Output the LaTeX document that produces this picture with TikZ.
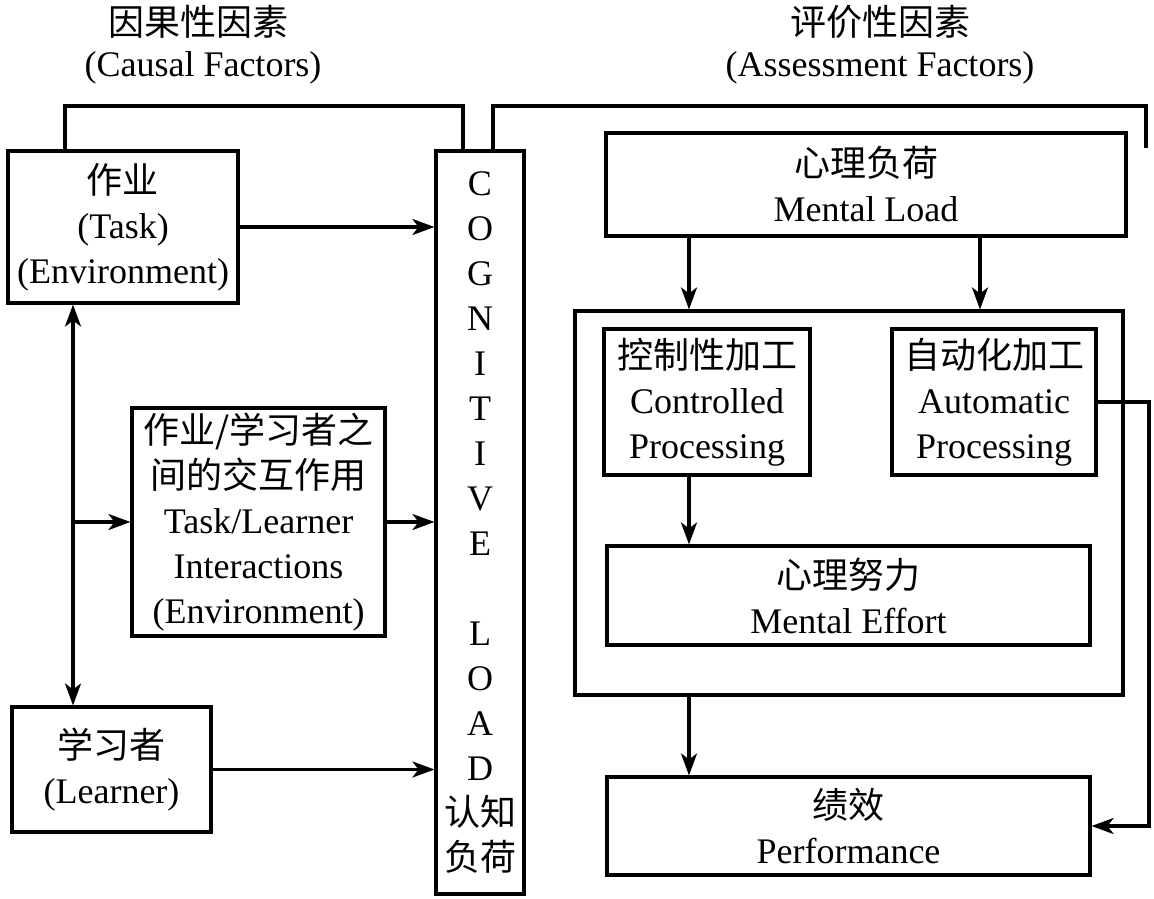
\documentclass[tikz,border=0pt]{standalone}
\usepackage{fontspec}
\setmainfont{Liberation Serif}
\newfontfamily\cjk{Noto Sans CJK SC}
\usetikzlibrary{arrows.meta}
\begin{document}
\begin{tikzpicture}[x=1pt,y=-1pt,
  line width=3.1pt,
  >={Stealth[length=22pt,width=16pt,inset=6pt]},
  box/.style={draw, align=center, inner sep=0pt, font={\fontsize{36}{45}\selectfont}},
  ttl/.style={align=center, inner sep=0pt, font={\fontsize{36}{45}\selectfont}}]
\useasboundingbox (0,0) rectangle (1154,898);

% titles
\node[ttl] (t1a) at (198,22) {\cjk 因果性因素};
\node[ttl] (t1b) at (203,68) {(Causal Factors)};
\node[ttl] (t2a) at (880,22) {\cjk 评价性因素};
\node[ttl] (t2b) at (880,68) {(Assessment Factors)};

% left side
\node[box, minimum width=230, minimum height=152] (task) at (123,227)
  {{\cjk 作业}\\(Task)\\(Environment)};
\node[box, minimum width=253, minimum height=228] (inter) at (258.5,522)
  {{\cjk 作业/学习者之}\\{\cjk 间的交互作用}\\Task/Learner\\Interactions\\(Environment)};
\node[box, minimum width=199, minimum height=125] (learner) at (111.5,769.5)
  {{\cjk 学习者}\\(Learner)};

% cognitive load column
\node[box, minimum width=88, minimum height=743] (cl) at (480,522.5)
  {C\\O\\G\\N\\I\\T\\I\\V\\E\\[45pt]L\\O\\A\\D\\{\cjk 认知}\\{\cjk 负荷}};

% right side
\node[box, minimum width=520, minimum height=103] (ml) at (866,184.5)
  {{\cjk 心理负荷}\\Mental Load};
\node[box, minimum width=548, minimum height=384] (big) at (849,503) {};
\node[box, minimum width=206, minimum height=146] (ctrl) at (707,402)
  {{\cjk 控制性加工}\\Controlled\\Processing};
\node[box, minimum width=204, minimum height=146] (auto) at (994,402)
  {{\cjk 自动化加工}\\Automatic\\Processing};
\node[box, minimum width=483, minimum height=99] (me) at (848.5,595.5)
  {{\cjk 心理努力}\\Mental Effort};
\node[box, minimum width=483, minimum height=98] (perf) at (848.5,826)
  {{\cjk 绩效}\\Performance};

% helper coordinates
\coordinate (xT) at (73,0);
\coordinate (xL) at (689,0);
\coordinate (xR) at (980,0);
\coordinate (xFB) at (1149,0);
\coordinate (b1) at (65,106);
\coordinate (b2) at (463,106);
\coordinate (b3) at (493,106);
\coordinate (b4) at (1146,106);
\coordinate (bend) at (1146,148);

% brackets
\draw (b1 |- task.north) -- (b1) -- (b2) -- (b2 |- cl.north);
\draw (b3 |- cl.north) -- (b3) -- (b4) -- (bend);

% left arrows
\draw[->] (task.east) -- (task.east -| cl.west);
\draw[->] (inter.east) -- (inter.east -| cl.west);
\draw[->] (learner.east) -- (learner.east -| cl.west);
\draw[<->] (xT |- task.south) -- (xT |- learner.north);
\draw[->] (xT |- inter.west) -- (inter.west);

% right arrows
\draw[->] (xL |- ml.south) -- (xL |- big.north);
\draw[->] (xR |- ml.south) -- (xR |- big.north);
\draw[->] (xL |- ctrl.south) -- (xL |- me.north);
\draw[->] (xL |- big.south) -- (xL |- perf.north);
\draw[->] (auto.east) -- (auto.east -| xFB) -- (xFB |- perf.east) -- (perf.east);
\end{tikzpicture}
\end{document}
